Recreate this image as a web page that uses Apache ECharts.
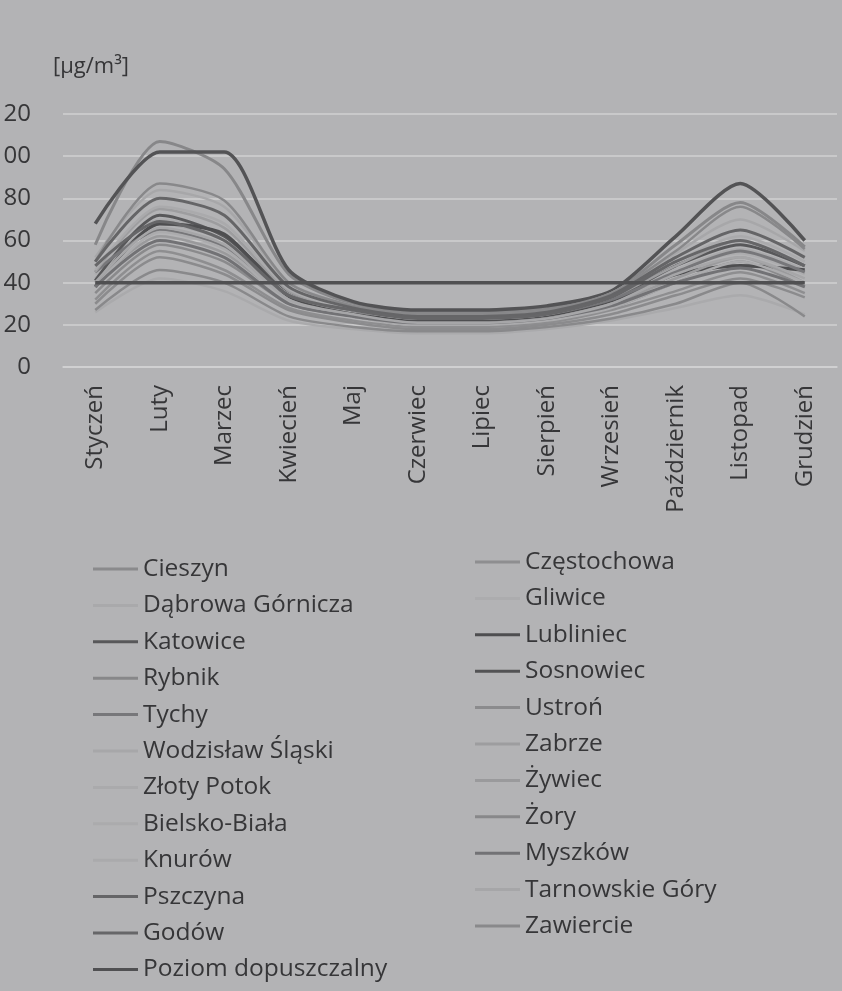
<!DOCTYPE html>
<html>
<head>
<meta charset="utf-8">
<script src="https://cdn.jsdelivr.net/npm/echarts@6/dist/echarts.min.js"></script>
<style>
html,body{margin:0;padding:0;background:#b3b3b5;}
#chart{width:842px;height:991px;}
</style>
</head>
<body>
<div id="chart"></div>
<script>
const months = ['Styczeń','Luty','Marzec','Kwiecień','Maj','Czerwiec','Lipiec','Sierpień','Wrzesień','Październik','Listopad','Grudzień'];
const yTicks = [0, 20, 40, 60, 80, 100, 120];
const unitLabel = '[µg/m³]';

const cieszyn      = [35, 58, 50, 30, 24, 20, 20, 22, 28, 40, 50, 38];
const czestochowa  = [32, 55, 46, 28, 22, 19, 19, 21, 27, 36, 45, 35];
const dabrowa      = [42, 68, 60, 33, 26, 22, 22, 24, 31, 46, 56, 46];
const gliwice      = [44, 70, 62, 34, 26, 22, 22, 24, 32, 46, 54, 44];
const katowice     = [41, 72, 62, 36, 27, 23, 23, 25, 32, 48, 58, 48];
const lubliniec    = [38, 68, 63, 33, 25, 22, 22, 24, 31, 44, 48, 46];
const rybnik       = [58, 107, 94, 44, 30, 26, 26, 28, 35, 58, 78, 57];
const sosnowiec    = [68, 102, 102, 46, 31, 27, 27, 29, 36, 62, 87, 60];
const tychy        = [45, 65, 57, 34, 27, 23, 23, 25, 32, 45, 55, 45];
const ustron       = [30, 52, 44, 27, 21, 18, 18, 20, 25, 34, 42, 33];
const wodzislaw    = [52, 84, 76, 40, 29, 24, 24, 26, 35, 54, 70, 55];
const zabrze       = [45, 75, 66, 36, 27, 23, 23, 25, 33, 48, 60, 48];
const zlotyPotok   = [26, 42, 36, 22, 18, 16, 16, 18, 22, 28, 34, 25];
const zywiec       = [40, 62, 54, 32, 24, 21, 21, 23, 30, 42, 52, 40];
const bielsko      = [38, 64, 56, 31, 24, 20, 20, 22, 28, 40, 50, 40];
const zory         = [50, 87, 79, 40, 29, 25, 25, 27, 35, 55, 76, 56];
const knurow       = [46, 76, 68, 37, 27, 23, 23, 25, 33, 50, 62, 50];
const myszkow      = [38, 60, 52, 30, 24, 21, 21, 23, 29, 40, 47, 38];
const pszczyna     = [50, 80, 72, 38, 28, 24, 24, 26, 34, 52, 65, 52];
const tarnowskie   = [40, 66, 58, 32, 25, 21, 21, 23, 30, 44, 52, 42];
const godow        = [48, 69, 60, 34, 27, 23, 23, 25, 33, 50, 60, 48];
const zawiercie    = [27, 46, 40, 24, 19, 17, 17, 19, 23, 30, 40, 24];
const poziom       = [40, 40, 40, 40, 40, 40, 40, 40, 40, 40, 40, 40];

const seriesDefs = [
  ['Cieszyn', cieszyn, '#8a8a8c', 2.5],
  ['Częstochowa', czestochowa, '#8e8e90', 2.5],
  ['Dąbrowa Górnicza', dabrowa, '#a9a9ab', 2.5],
  ['Gliwice', gliwice, '#acacae', 2.5],
  ['Katowice', katowice, '#58585a', 3],
  ['Lubliniec', lubliniec, '#4e4e50', 3.5],
  ['Rybnik', rybnik, '#878789', 3],
  ['Sosnowiec', sosnowiec, '#535355', 3.5],
  ['Tychy', tychy, '#77777a', 3],
  ['Ustroń', ustron, '#8b8b8d', 2.5],
  ['Wodzisław Śląski', wodzislaw, '#a7a7a9', 2.5],
  ['Zabrze', zabrze, '#9d9d9f', 2.5],
  ['Złoty Potok', zlotyPotok, '#aaaaac', 2.5],
  ['Żywiec', zywiec, '#9a9a9c', 2.5],
  ['Bielsko-Biała', bielsko, '#ababad', 2.5],
  ['Żory', zory, '#88888a', 2.5],
  ['Knurów', knurow, '#aaaaac', 2.5],
  ['Myszków', myszkow, '#727275', 3],
  ['Pszczyna', pszczyna, '#656567', 3],
  ['Tarnowskie Góry', tarnowskie, '#a6a6a8', 2.5],
  ['Godów', godow, '#666668', 3],
  ['Zawiercie', zawiercie, '#89898b', 2.5],
  ['Poziom dopuszczalny', poziom, '#505052', 3.5]
];

const leftNames = ['Cieszyn','Dąbrowa Górnicza','Katowice','Rybnik','Tychy','Wodzisław Śląski','Złoty Potok','Bielsko-Biała','Knurów','Pszczyna','Godów','Poziom dopuszczalny'];
const rightNames = ['Częstochowa','Gliwice','Lubliniec','Sosnowiec','Ustroń','Zabrze','Żywiec','Żory','Myszków','Tarnowskie Góry','Zawiercie'];

const font = 'Open Sans';
const textColor = '#363638';

const legendCommon = {
  orient: 'vertical',
  itemWidth: 45,
  itemHeight: 26,
  itemGap: 10.4,
  icon: 'path://M0,0 L45,0 L45,3 L0,3 Z',
  textStyle: { fontFamily: font, fontSize: 24.5, color: textColor, lineHeight: 26 }
};

const chart = echarts.init(document.getElementById('chart'), null, { renderer: 'canvas' });
chart.setOption({
  backgroundColor: '#b3b3b5',
  animation: false,
  grid: { left: 63, right: 5, top: 114, bottom: 624, containLabel: false, outerBoundsMode: 'none' },
  graphic: [{
    type: 'text', left: 53, top: 56,
    style: { text: unitLabel, fontFamily: font, fontSize: 22, fill: textColor }
  }],
  legend: [
    Object.assign({ left: 88, top: 551, data: leftNames.map(n => ({ name: n, itemStyle: { color: seriesDefs.find(s => s[0] === n)[2] } })) }, legendCommon),
    Object.assign({ left: 470, top: 544, data: rightNames.map(n => ({ name: n, itemStyle: { color: seriesDefs.find(s => s[0] === n)[2] } })) }, legendCommon)
  ],
  xAxis: {
    type: 'category',
    data: months,
    boundaryGap: true,
    axisLine: { show: true, lineStyle: { color: '#d2d2d4', width: 1.5 } },
    axisTick: { show: false },
    axisLabel: { rotate: 90, margin: 18, fontFamily: font, fontSize: 24, color: textColor, interval: 0 },
    splitLine: { show: false }
  },
  yAxis: {
    type: 'value',
    min: yTicks[0],
    max: yTicks[yTicks.length - 1],
    interval: 20,
    axisLine: { show: false },
    axisTick: { show: false },
    axisLabel: { margin: 32, fontFamily: font, fontSize: 24, color: textColor },
    splitLine: { show: true, lineStyle: { color: '#d0d0d2', width: 1.5 } }
  },
  series: seriesDefs.map(([name, data, color, w]) => ({
    name, type: 'line', data,
    symbol: 'none', smooth: 0.25,
    lineStyle: { color, width: w },
    itemStyle: { color },
    z: name === 'Poziom dopuszczalny' ? 5 : 2
  }))
});
</script>
</body>
</html>
